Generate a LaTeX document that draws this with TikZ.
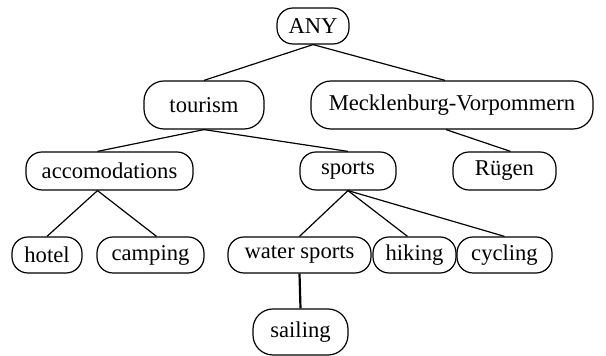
\documentclass[tikz,border=0pt]{standalone}
\usepackage{fontspec}
\setmainfont{Liberation Serif}
\usetikzlibrary{calc}

\begin{document}
\begin{tikzpicture}[
    x=0.5pt, y=-0.5pt,
    font=\rmfamily\fontsize{11.3}{13.6}\selectfont,
    nd/.style={
      draw=black, line width=0.6pt, rounded corners=8pt,
      minimum height=18pt, inner sep=0pt, align=center
    },
    tallnd/.style={nd, rounded corners=10pt},
    edge/.style={line width=0.6pt},
    thickedge/.style={line width=1.1pt}
  ]
  \useasboundingbox (0,0) rectangle (606,356);

  \node[nd, minimum width=36pt]                       (any)     at (313,26)    {ANY};
  \node[tallnd, minimum width=60pt, minimum height=24pt]  (tourism) at (204,105)   {tourism};
  \node[tallnd, minimum width=141pt, minimum height=24pt] (mv)      at (452,105)   {Mecklenburg-Vorpommern};
  \node[nd, minimum width=83.5pt, minimum height=19pt] (acc)     at (109.5,171) {accomodations};
  \node[nd, minimum width=48pt, minimum height=19pt]   (sports)  at (348,171)   {sports};
  \node[nd, minimum width=51.5pt, minimum height=19pt] (ruegen)  at (504.5,171) {Rügen};
  \node[nd, minimum width=35pt]                       (hotel)   at (47,255)    {hotel};
  \node[nd, minimum width=53.5pt]                     (camping) at (150.5,255) {camping};
  \node[nd, minimum width=71.5pt]                     (water)   at (299.5,255) {water sports};
  \node[nd, minimum width=41.5pt]                     (hiking)  at (414.5,255) {hiking};
  \node[nd, minimum width=47.5pt]                     (cycling) at (504.5,255) {cycling};
  \node[tallnd, minimum width=47.5pt, minimum height=23pt] (sailing) at (300.5,332) {sailing};

  \draw[edge] (any.south) -- (tourism.north);
  \draw[edge] (any.south) -- ([xshift=-3.5pt]mv.north);
  \draw[edge] (tourism.south) -- ([xshift=-6pt]acc.north);
  \draw[edge] (tourism.south) -- (sports.north);
  \draw[edge] ([xshift=-3pt]mv.south) -- ([xshift=3pt]ruegen.north);
  \draw[edge] ([xshift=-6pt]acc.south) -- (hotel.north);
  \draw[edge] ([xshift=-6pt]acc.south) -- ([xshift=3pt]camping.north);
  \draw[edge] (sports.south) -- (water.north);
  \draw[edge] (sports.south) -- ([xshift=-3.5pt]hiking.north);
  \draw[edge] (sports.south) -- (cycling.north);
  \draw[thickedge] (water.south) -- (sailing.north);
\end{tikzpicture}
\end{document}
